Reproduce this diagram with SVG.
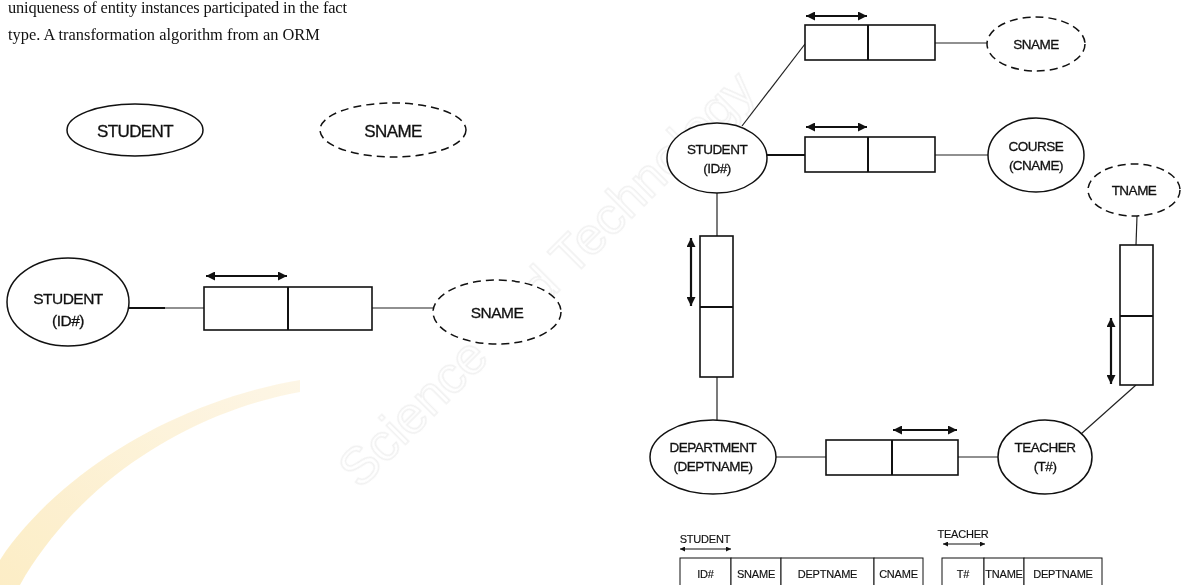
<svg xmlns="http://www.w3.org/2000/svg" width="1184" height="585" viewBox="0 0 1184 585">
  <style>
    .body { font-family: "Liberation Serif", "Times New Roman", serif; font-size: 16.4px; fill: #111; }
    .lbl { font-family: "Liberation Sans", Arial, sans-serif; fill: #111; stroke: #111; stroke-width: 0.3; text-anchor: middle; }
    .big { font-size: 17px; letter-spacing: -0.6px; }
    .mid { font-size: 15.5px; letter-spacing: -0.5px; }
    .sm { font-size: 13.5px; letter-spacing: -0.5px; }
    .tb { font-size: 11px; letter-spacing: -0.2px; stroke-width: 0.15; }
    .ent { fill: #fff; stroke: #111; stroke-width: 1.5; }
    .val { fill: #fff; stroke: #111; stroke-width: 1.5; stroke-dasharray: 8 5; }
    .role { fill: #fff; stroke: #111; stroke-width: 1.6; }
    .div { stroke: #111; stroke-width: 2; }
    .ln { stroke: #222; stroke-width: 1.2; fill: none; }
    .lnb { stroke: #111; stroke-width: 2.2; fill: none; }
    .uc { stroke: #111; stroke-width: 2.2; fill: none; marker-start: url(#ah); marker-end: url(#ah); }
    .ucs { stroke: #111; stroke-width: 1; fill: none; marker-start: url(#ahs); marker-end: url(#ahs); }
    .cell { fill: #fff; stroke: #111; stroke-width: 1; }
    .wm { fill: none; stroke: #ededed; stroke-width: 1.5; font-family: "Liberation Sans", Arial, sans-serif; }
  </style>
  <defs>
    <marker id="ah" viewBox="0 0 10 10" refX="10" refY="5" markerUnits="userSpaceOnUse" markerWidth="9" markerHeight="9" orient="auto-start-reverse">
      <path d="M0,0 L10,5 L0,10 z" fill="#111"/>
    </marker>
    <marker id="ahs" viewBox="0 0 10 10" refX="10" refY="5" markerUnits="userSpaceOnUse" markerWidth="6" markerHeight="5" orient="auto-start-reverse">
      <path d="M0,0 L10,5 L0,10 z" fill="#111"/>
    </marker>
    <linearGradient id="swoosh" x1="0" y1="1" x2="1" y2="0">
      <stop offset="0" stop-color="#fce9b8"/>
      <stop offset="1" stop-color="#fdf4e0"/>
    </linearGradient>
  </defs>

  <rect width="1184" height="585" fill="#fff"/>

  <!-- faint publisher watermark behind the figure -->
  <g id="watermark" opacity="0.8">
    <path d="M0,560 C60,470 180,400 300,380 L300,392 C190,412 80,480 20,585 L0,585 Z" fill="url(#swoosh)"/>
    <text class="wm" x="0" y="0" font-size="52" transform="translate(360,490) rotate(-45)">Science and Technology</text>
  </g>

  <!-- body text above the figure -->
  <g id="paragraph">
    <text class="body" x="8" y="13" textLength="339" lengthAdjust="spacing">uniqueness of entity instances participated in the fact</text>
    <text class="body" x="8" y="40">type. A transformation algorithm from an ORM</text>
  </g>

  <!-- connectors -->
  <g id="connectors">
    <!-- left fact type -->
    <line class="lnb" x1="129" y1="308" x2="165" y2="308"/>
    <line class="ln" x1="165" y1="308" x2="204" y2="308"/>
    <line class="ln" x1="372" y1="308" x2="433" y2="308"/>
    <!-- right schema -->
    <line class="ln" x1="742" y1="126" x2="805" y2="44"/>
    <line class="ln" x1="935" y1="43" x2="988" y2="43"/>
    <line class="lnb" x1="767" y1="155" x2="805" y2="155"/>
    <line class="ln" x1="935" y1="155" x2="988" y2="155"/>
    <line class="ln" x1="717" y1="193" x2="717" y2="236"/>
    <line class="ln" x1="717" y1="377" x2="717" y2="420"/>
    <line class="ln" x1="776" y1="457" x2="826" y2="457"/>
    <line class="ln" x1="958" y1="457" x2="998" y2="457"/>
    <line class="ln" x1="1081" y1="434" x2="1136" y2="385"/>
    <line class="ln" x1="1137" y1="216" x2="1136" y2="245"/>
  </g>

  <!-- stand-alone entity and value types -->
  <g id="student-entity">
    <ellipse class="ent" cx="135" cy="130" rx="68" ry="26"/>
    <text class="lbl big" x="135" y="137">STUDENT</text>
  </g>
  <g id="sname-value">
    <ellipse class="val" cx="393" cy="130" rx="73" ry="27"/>
    <text class="lbl big" x="393" y="137">SNAME</text>
  </g>

  <!-- binary fact type STUDENT – SNAME -->
  <g id="fact-student">
    <ellipse class="ent" cx="68" cy="302" rx="61" ry="44"/>
    <text class="lbl mid" x="68" y="304">STUDENT</text>
    <text class="lbl mid" x="68" y="326">(ID#)</text>
  </g>
  <g id="fact-roles">
    <rect class="role" x="204" y="287" width="168" height="43"/>
    <line class="div" x1="288" y1="287" x2="288" y2="330"/>
    <line class="uc" x1="206" y1="276" x2="287" y2="276"/>
  </g>
  <g id="fact-sname">
    <ellipse class="val" cx="497" cy="312" rx="64" ry="32"/>
    <text class="lbl mid" x="497" y="318">SNAME</text>
  </g>

  <!-- schema: STUDENT, COURSE, TEACHER, DEPARTMENT -->
  <g id="s-student">
    <ellipse class="ent" cx="717" cy="158" rx="50" ry="35"/>
    <text class="lbl sm" x="717" y="154">STUDENT</text>
    <text class="lbl sm" x="717" y="173">(ID#)</text>
  </g>
  <g id="s-roles-sname">
    <rect class="role" x="805" y="25" width="130" height="35"/>
    <line class="div" x1="868" y1="25" x2="868" y2="60"/>
    <line class="uc" x1="806" y1="16" x2="867" y2="16"/>
  </g>
  <g id="s-sname">
    <ellipse class="val" cx="1036" cy="44" rx="49" ry="27"/>
    <text class="lbl sm" x="1036" y="49">SNAME</text>
  </g>
  <g id="s-roles-course">
    <rect class="role" x="805" y="137" width="130" height="35"/>
    <line class="div" x1="868" y1="137" x2="868" y2="172"/>
    <line class="uc" x1="806" y1="127" x2="867" y2="127"/>
  </g>
  <g id="s-course">
    <ellipse class="ent" cx="1036" cy="155" rx="48" ry="37"/>
    <text class="lbl sm" x="1036" y="151">COURSE</text>
    <text class="lbl sm" x="1036" y="170">(CNAME)</text>
  </g>
  <g id="s-tname">
    <ellipse class="val" cx="1134" cy="190" rx="46" ry="26"/>
    <text class="lbl sm" x="1134" y="195">TNAME</text>
  </g>
  <g id="s-roles-tname">
    <rect class="role" x="1120" y="245" width="33" height="140"/>
    <line class="div" x1="1120" y1="316" x2="1153" y2="316"/>
    <line class="uc" x1="1111" y1="318" x2="1111" y2="384"/>
  </g>
  <g id="s-roles-dept">
    <rect class="role" x="700" y="236" width="33" height="141"/>
    <line class="div" x1="700" y1="307" x2="733" y2="307"/>
    <line class="uc" x1="691" y1="238" x2="691" y2="306"/>
  </g>
  <g id="s-department">
    <ellipse class="ent" cx="713" cy="457" rx="63" ry="37"/>
    <text class="lbl sm" x="713" y="452">DEPARTMENT</text>
    <text class="lbl sm" x="713" y="471">(DEPTNAME)</text>
  </g>
  <g id="s-roles-works">
    <rect class="role" x="826" y="440" width="132" height="35"/>
    <line class="div" x1="892" y1="440" x2="892" y2="475"/>
    <line class="uc" x1="893" y1="430" x2="957" y2="430"/>
  </g>
  <g id="s-teacher">
    <ellipse class="ent" cx="1045" cy="457" rx="47" ry="37"/>
    <text class="lbl sm" x="1045" y="452">TEACHER</text>
    <text class="lbl sm" x="1045" y="471">(T#)</text>
  </g>

  <!-- relational tables -->
  <g id="table-student">
    <text class="lbl tb" x="705" y="543">STUDENT</text>
    <line class="ucs" x1="680" y1="549" x2="731" y2="549"/>
    <rect class="cell" x="680" y="558" width="51" height="40"/>
    <rect class="cell" x="731" y="558" width="50" height="40"/>
    <rect class="cell" x="781" y="558" width="93" height="40"/>
    <rect class="cell" x="874" y="558" width="49" height="40"/>
    <text class="lbl tb" x="705.5" y="578">ID#</text>
    <text class="lbl tb" x="756" y="578">SNAME</text>
    <text class="lbl tb" x="827.5" y="578">DEPTNAME</text>
    <text class="lbl tb" x="898.5" y="578">CNAME</text>
  </g>
  <g id="table-teacher">
    <text class="lbl tb" x="963" y="538">TEACHER</text>
    <line class="ucs" x1="943" y1="544" x2="985" y2="544"/>
    <rect class="cell" x="942" y="558" width="42" height="40"/>
    <rect class="cell" x="984" y="558" width="40" height="40"/>
    <rect class="cell" x="1024" y="558" width="78" height="40"/>
    <text class="lbl tb" x="963" y="578">T#</text>
    <text class="lbl tb" x="1004" y="578">TNAME</text>
    <text class="lbl tb" x="1063" y="578">DEPTNAME</text>
  </g>
</svg>
